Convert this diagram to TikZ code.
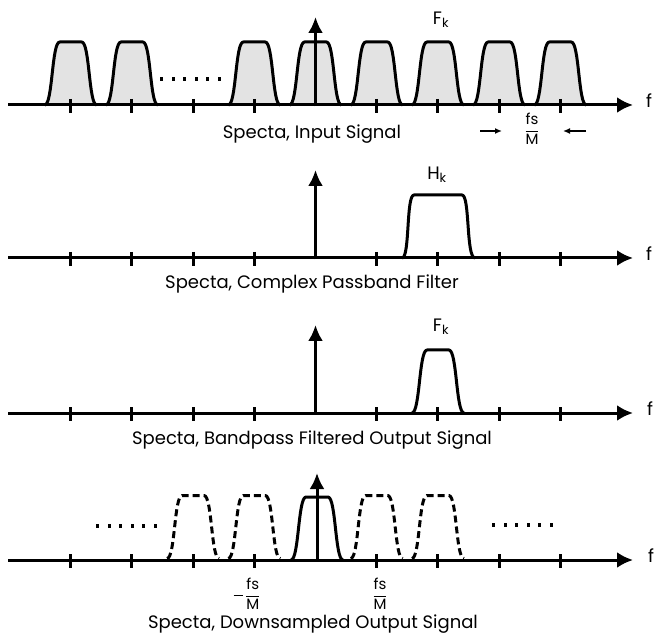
\documentclass[tikz,border=0pt]{standalone}
\usepackage{fontspec}
\usepackage{amsmath}
\setmainfont{Poppins}
\usetikzlibrary{arrows.meta,positioning}

% one spectral lobe: centre x, axis y, draw options
\newcommand{\bump}[3]{%
    \draw[#3] (#1-26,#2) .. controls (#1-18,#2) and (#1-19,#2-63) .. (#1-11,#2-63)
        -- (#1+11,#2-63) .. controls (#1+19,#2-63) and (#1+18,#2) .. (#1+26,#2);}

\begin{document}
\begin{tikzpicture}[x=1pt,y=-1pt,
    faxis/.style={line width=3pt,-{Latex[length=16pt,width=16pt]}},
    vaxis/.style={line width=3pt,-{Latex[length=16pt,width=15pt]}},
    tickmark/.style={line width=3pt},
    lobe/.style={line width=3pt,line join=round},
    caption/.style={font=\fontsize{18}{21}\selectfont,inner sep=0pt},
    lbl/.style={font=\fontsize{18}{21}\selectfont,inner sep=0pt},
    frac/.style={font=\fontsize{15}{17}\selectfont,inner sep=0pt},
    small arrow/.style={line width=1.4pt,-{Latex[length=7pt,width=6pt]}}
    ]
    \useasboundingbox (0,0) rectangle (654,639);

    %panel 1: input signal
    \foreach \k in {-4,-3,-1,0,1,2,3,4}
        \bump{315.5+61.2*\k}{105}{lobe,fill=gray!22};
    \foreach \i in {0,...,5}
        \fill (160+11.6*\i,77) rectangle ++(3,4);
    \coordinate (l1) at (8,105);
    \coordinate (r1) at (633,105);
    \coordinate (o1) at (315.5,106.5);
    \coordinate (t1) at (315.5,17);
    \draw[faxis] (l1) -- (r1);
    \foreach \k in {-4,-3,-2,-1,1,2,3,4}
        \draw[tickmark] (315.5+61.2*\k,99) -- (315.5+61.2*\k,113);
    \draw[vaxis] (o1) -- (t1);
    \node[lbl] (f1) at (649,101) {f};
    \node[lbl] (fk1) at (441,20) {F$_{\text{k}}$};
    \node[caption] (cap1) at (312,134) {Specta, Input Signal};
    \node[frac] (fsm) at (532,129) {$\dfrac{\text{fs}}{\text{M}}$};
    \coordinate (al) at (480,131);
    \coordinate (alt) at (502,131);
    \coordinate (ar) at (586,131);
    \coordinate (art) at (563,131);
    \draw[small arrow] (al) -- (alt);
    \draw[small arrow] (ar) -- (art);

    %panel 2: complex passband filter
    \draw[lobe] (402,258) .. controls (410,258) and (406,195) .. (414,195)
        -- (462,195) .. controls (470,195) and (466,258) .. (475,258);
    \coordinate (l2) at (8,258);
    \coordinate (r2) at (633,258);
    \coordinate (o2) at (315.5,259.5);
    \coordinate (t2) at (315.5,170);
    \draw[faxis] (l2) -- (r2);
    \foreach \k in {-4,-3,-2,-1,1,2,3,4}
        \draw[tickmark] (315.5+61.2*\k,252) -- (315.5+61.2*\k,266);
    \draw[vaxis] (o2) -- (t2);
    \node[lbl] (f2) at (649,254) {f};
    \node[lbl] (hk2) at (437,175) {H$_{\text{k}}$};
    \node[caption] (cap2) at (312,284) {Specta, Complex Passband Filter};

    %panel 3: bandpass filtered output
    \bump{438}{413}{lobe};
    \coordinate (l3) at (8,413);
    \coordinate (r3) at (633,413);
    \coordinate (o3) at (315.5,414.5);
    \coordinate (t3) at (315.5,325);
    \draw[faxis] (l3) -- (r3);
    \foreach \k in {-4,-3,-2,-1,1,2,3,4}
        \draw[tickmark] (315.5+61.2*\k,407) -- (315.5+61.2*\k,421);
    \draw[vaxis] (o3) -- (t3);
    \node[lbl] (f3) at (650,409) {f};
    \node[lbl] (fk3) at (441,327) {F$_{\text{k}}$};
    \node[caption] (cap3) at (312,440) {Specta, Bandpass Filtered Output Signal};

    %panel 4: downsampled output
    \foreach \k in {-2,-1,1,2}
        \bump{315.5+61.2*\k}{558.5}{lobe,dash pattern=on 7pt off 4pt};
    \bump{317}{560}{lobe};
    \foreach \i in {0,...,5}
        \fill (96+11.6*\i,524) rectangle ++(3,4);
    \foreach \i in {0,...,5}
        \fill (492+11.6*\i,523) rectangle ++(3,4);
    \coordinate (l4) at (8,560);
    \coordinate (r4) at (633,560);
    \coordinate (o4) at (317,561.5);
    \coordinate (t4) at (317,473);
    \draw[faxis] (l4) -- (r4);
    \foreach \k in {-4,-3,-2,-1,1,2,3,4}
        \draw[tickmark] (315.5+61.2*\k,554) -- (315.5+61.2*\k,568);
    \draw[vaxis] (o4) -- (t4);
    \node[lbl] (f4) at (651,556) {f};
    \node[frac] (mfs) at (247,594) {\rule[4pt]{9pt}{1.1pt}\,$\dfrac{\text{fs}}{\text{M}}$};
    \node[frac] (pfs) at (380,594) {$\dfrac{\text{fs}}{\text{M}}$};
    \node[caption] (cap4) at (313,624) {Specta, Downsampled Output Signal};
\end{tikzpicture}
\end{document}
